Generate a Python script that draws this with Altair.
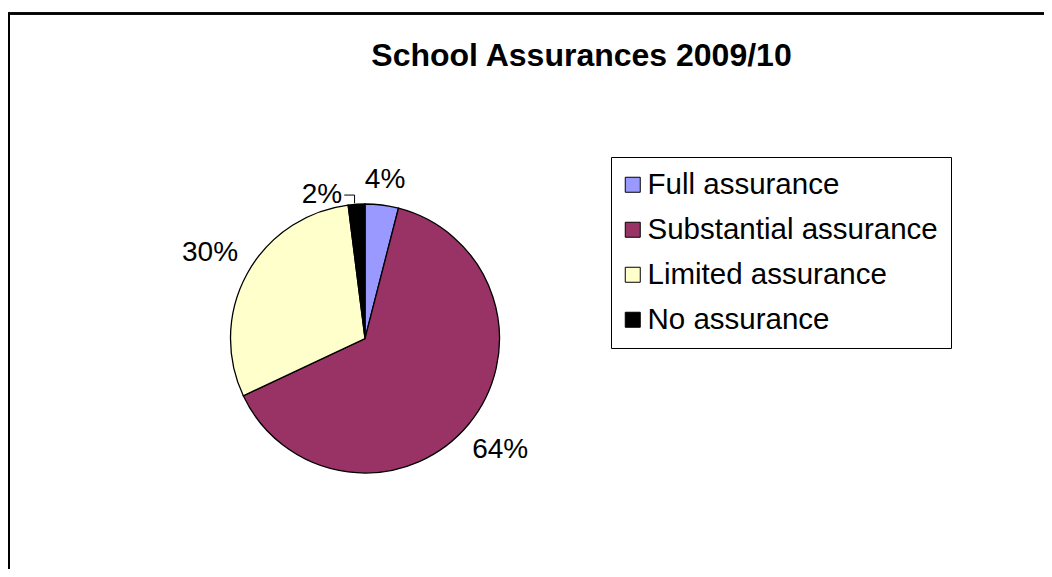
import altair as alt
import pandas as pd

# ---- data ----
categories = ["Full assurance", "Substantial assurance", "Limited assurance", "No assurance"]
counts = [2, 32, 15, 1]          # 4%, 64%, 30%, 2% of 50 schools
colors = ["#9999FF", "#993366", "#FFFFCC", "#000000"]
title_text = "School Assurances 2009/10"

df = pd.DataFrame({"category": categories, "value": counts, "idx": list(range(len(categories)))})

# ---- layout (view coordinates) ----
W, PT = 1036, 80
H = 561 - PT
CX, CY = 357, 250.5
R = 134.5
GAP = 13
FS = 28
FONT = "Liberation Sans"
BORDER_Y = -74.5

base = alt.Chart(df)

arcs = base.mark_arc(radius=R, stroke="black", strokeWidth=1.3).encode(
    theta=alt.Theta("value:Q", stack=True),
    color=alt.Color(
        "category:N",
        scale=alt.Scale(domain=categories, range=colors),
        sort=categories,
        legend=alt.Legend(
            orient="none", legendX=603, legendY=69, title=None,
            symbolType="square", symbolSize=225, symbolStrokeColor="black",
            symbolStrokeWidth=1, symbolOffset=-6, labelFontSize=29.5, labelFont=FONT,
            labelColor="black", labelLimit=500, labelOffset=0,
            strokeColor="black", fillColor="white", padding=13,
            rowPadding=14, cornerRadius=0,
        ),
    ),
    order=alt.Order("idx:Q"),
    x=alt.value(CX),
    y=alt.value(CY),
)

lab = base.transform_window(
    cum="sum(value)", sort=[alt.SortField("idx")], frame=[None, 0]
).transform_joinaggregate(
    total="sum(value)"
).transform_calculate(
    mid="datum.cum - datum.value/2",
    ang="2*PI*(datum.cum - datum.value/2)/datum.total",
    pct="round(100*datum.value/datum.total) + '%'",
).transform_calculate(
    hw=f"({FS}/2)*(0.556*(length(datum.pct)-1) + 0.889)",
    lr=f"{R} + {GAP} + ({FS}/2)*(0.556*(length(datum.pct)-1) + 0.889)*abs(sin(datum.ang)) + 10*abs(cos(datum.ang))",
    share="datum.value/datum.total",
)

text_enc = dict(
    theta=alt.Theta("mid:Q", stack=False),
    radius=alt.Radius("lr:Q", scale=None),
    text="pct:N",
    x=alt.value(CX),
    y=alt.value(CY),
)

labels_big = lab.transform_filter("datum.share >= 0.03").mark_text(
    font=FONT, fontSize=FS, color="black", baseline="middle", align="center"
).encode(**text_enc)

DX, DY = -33, 15
labels_small = lab.transform_filter("datum.share < 0.03").mark_text(
    font=FONT, fontSize=FS, color="black", baseline="middle", align="center", dx=DX, dy=DY
).encode(**text_enc)

# leader line for the small displaced label
lead = lab.transform_filter("datum.share < 0.03").transform_calculate(
    ex=f"{CX} + {R}*sin(datum.ang) - 2",
    ey=f"{CY} - {R}*cos(datum.ang) - 1",
    lx=f"{CX} + datum.lr*sin(datum.ang) + {DX} + datum.hw + 2",
    ly=f"{CY} - datum.lr*cos(datum.ang) + {DY}",
)
lead_h = lead.mark_rule(color="black", strokeWidth=1).encode(
    x=alt.X("lx:Q", scale=None), x2="ex:Q", y=alt.Y("ly:Q", scale=None)
)
lead_v = lead.mark_rule(color="black", strokeWidth=1).encode(
    x=alt.X("ex:Q", scale=None), y=alt.Y("ly:Q", scale=None), y2="ey:Q"
)

# chart-area border (top and left edges visible in the crop)
border_top = alt.Chart(df).mark_rule(color="black", strokeWidth=2).encode(
    x=alt.value(0), x2=alt.value(W), y=alt.value(BORDER_Y)
)
border_left = alt.Chart(df).mark_rule(color="black", strokeWidth=2).encode(
    x=alt.value(1), y=alt.value(BORDER_Y), y2=alt.value(H)
)

chart = alt.layer(
    border_top, border_left, arcs, labels_big, labels_small, lead_h, lead_v
).properties(
    width=W,
    height=H,
    padding={"left": 0, "top": PT, "right": 0, "bottom": 0},
    autosize=alt.AutoSizeParams(type="none"),
    background="white",
    title=alt.TitleParams(
        title_text, font=FONT, fontSize=32, fontWeight="bold", color="black",
        anchor="middle", frame="group", dx=55.5, dy=31.7, offset=-54.2, baseline="alphabetic",
    ),
).configure_view(stroke=None)

chart.save("out.html", embed_options={"renderer": "svg", "actions": False})
